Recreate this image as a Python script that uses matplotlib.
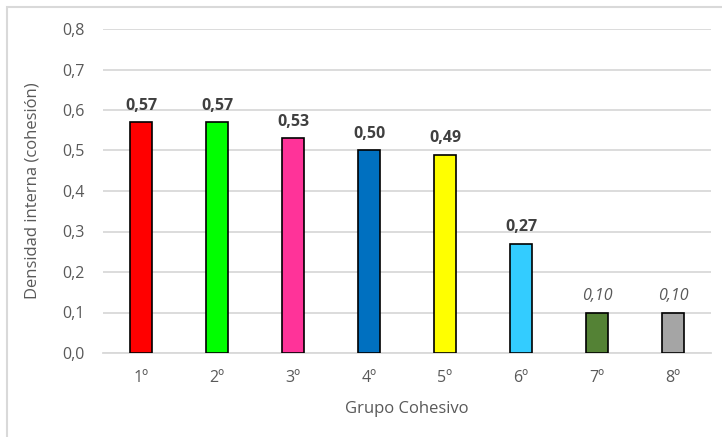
import matplotlib
matplotlib.use("Agg")
import matplotlib.pyplot as plt
from matplotlib.patches import Rectangle
from matplotlib.ticker import FuncFormatter

categories = ["1º", "2º", "3º", "4º", "5º", "6º", "7º", "8º"]
values = [0.57, 0.57, 0.53, 0.50, 0.49, 0.27, 0.10, 0.10]
colors = ["#FF0000", "#00FF00", "#FF3399", "#0070C0", "#FFFF00", "#33CCFF", "#548235", "#A5A5A5"]
italic_labels = [False, False, False, False, False, False, True, True]
y_ticks = [0.0, 0.1, 0.2, 0.3, 0.4, 0.5, 0.6, 0.7, 0.8]

plt.rcParams["font.family"] = ["Open Sans", "DejaVu Sans"]

W, H = 722, 437
fig = plt.figure(figsize=(W / 100, H / 100), dpi=100)
ax = fig.add_axes([103 / W, 1 - 353 / H, (711 - 103) / W, (353 - 29) / H])

# chart frame
fig.patches.append(Rectangle((7 / W, -0.1), 1.2, 1 - 7 / H + 0.1, transform=fig.transFigure,
                             fill=False, edgecolor="#D9D9D9", linewidth=1.5))

x = range(len(categories))
bars = ax.bar(x, values, width=0.3, color=colors, edgecolor="black", linewidth=1.2, zorder=3)

for xi, v, it in zip(x, values, italic_labels):
    label = f"{v:.2f}".replace(".", ",")
    if it:
        ax.annotate(label, (xi, v), xytext=(0, 6), textcoords="offset points", ha="center",
                    va="bottom", fontsize=11.5, style="italic", color="#595959")
    else:
        ax.annotate(label, (xi, v), xytext=(0, 6), textcoords="offset points", ha="center",
                    va="bottom", fontsize=11.5, fontweight="bold", color="#404040")

ax.set_xlim(-0.5, len(categories) - 0.5)
ax.set_ylim(0, 0.8)
ax.set_yticks(y_ticks)
ax.yaxis.set_major_formatter(FuncFormatter(lambda v, _: f"{v:.1f}".replace(".", ",")))
ax.set_xticks(list(x))
ax.set_xticklabels(categories)
ax.grid(axis="y", color="#D9D9D9", linewidth=1.3, zorder=0)
for s in ["top", "right", "left"]:
    ax.spines[s].set_visible(False)
ax.spines["bottom"].set_color("#D9D9D9")
ax.spines["bottom"].set_linewidth(1.3)
ax.tick_params(axis="both", length=0, colors="#595959", labelsize=11.5)
ax.tick_params(axis="x", pad=12)
ax.tick_params(axis="y", pad=13)

ax.set_xlabel("Grupo Cohesivo", fontsize=12, color="#595959", labelpad=11)
ax.set_ylabel("Densidad interna (cohesión)", fontsize=12, color="#595959", labelpad=16)

fig.savefig("out.png", dpi=100)
